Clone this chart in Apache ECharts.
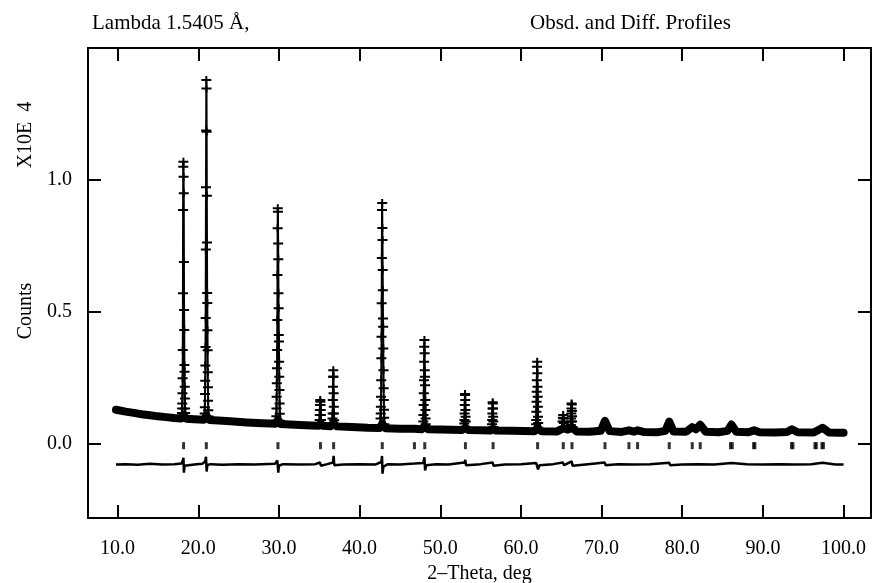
<!DOCTYPE html>
<html>
<head>
<meta charset="utf-8">
<script src="https://cdn.jsdelivr.net/npm/echarts@6/dist/echarts.min.js"></script>
<style>
  html, body { margin: 0; padding: 0; background: #fff; }
  #chart { width: 875px; height: 583px; }
</style>
</head>
<body>
<div id="chart"></div>
<script>
/* ------------------------------------------------------------------ */
/*  Powder profile: observed points, difference curve, reflections     */
/* ------------------------------------------------------------------ */

// background band (dense observed points merge into a thick band)
const bgTheta = [9.8, 11, 12, 13, 14, 15, 16, 17, 17.9, 18.18, 18.5, 19.5, 20.7, 21.0, 21.4, 22.5, 24, 26, 28, 29.6,
  29.88, 30.2, 32, 34, 34.9, 35.15, 35.5, 36.4, 36.78, 37.2, 39, 41, 42.5, 42.81, 43.2, 45, 46.8, 47.7, 48.08, 48.5,
  50, 52.7, 53.12, 53.5, 55, 56.2, 56.55, 56.9, 59, 61.7, 62.07, 62.5, 64.5, 65.25, 65.8, 66.33, 66.9, 68.5, 69.9, 70.42,
  71.0, 72.5, 73.39, 74.0, 74.46, 75.2, 77.0, 77.9, 78.39, 78.9, 80.5, 81.24, 81.7, 82.23, 82.9, 84.5, 85.6, 86.1, 86.7, 88.2,
  88.9, 89.6, 91.5, 93.0, 93.6, 94.3, 96.3, 97.4, 98.2, 99.5, 100.0];
const bgCounts = [0.13, 0.123, 0.118, 0.113, 0.109, 0.105, 0.102, 0.099, 0.097, 0.112, 0.096, 0.094, 0.092, 0.108, 0.091, 0.089, 0.086, 0.082, 0.079, 0.077,
  0.093, 0.076, 0.073, 0.070, 0.069, 0.078, 0.069, 0.067, 0.078, 0.067, 0.065, 0.062, 0.061, 0.077, 0.060, 0.058, 0.058, 0.056, 0.068, 0.056,
  0.055, 0.053, 0.062, 0.053, 0.052, 0.051, 0.058, 0.051, 0.050, 0.049, 0.062, 0.049, 0.048, 0.06, 0.055, 0.062, 0.048, 0.047, 0.05, 0.088,
  0.049, 0.046, 0.052, 0.047, 0.052, 0.046, 0.045, 0.05, 0.085, 0.048, 0.047, 0.064, 0.056, 0.073, 0.047, 0.045, 0.05, 0.074, 0.047, 0.045,
  0.052, 0.045, 0.044, 0.046, 0.056, 0.045, 0.044, 0.062, 0.044, 0.043, 0.043];

// observed points on the resolved peaks
const obsTheta = [
  17.96, 17.98, 18.00, 18.02, 18.04, 18.06, 18.08, 18.10, 18.12, 18.14, 18.16, 18.18, 18.20, 18.22, 18.24, 18.26, 18.28, 18.30, 18.32, 18.34, 18.36, 18.38, 18.40,
  20.78, 20.80, 20.82, 20.84, 20.86, 20.88, 20.90, 20.92, 20.94, 20.96, 20.98, 21.00, 21.02, 21.04, 21.06, 21.08, 21.10, 21.12, 21.14, 21.16, 21.18, 21.20, 21.22, 21.24, 21.26,
  29.66, 29.68, 29.70, 29.72, 29.74, 29.76, 29.78, 29.80, 29.82, 29.84, 29.86, 29.88, 29.90, 29.92, 29.94, 29.96, 29.98, 30.00, 30.02, 30.04, 30.06, 30.08, 30.10, 30.12,
  35.02, 35.04, 35.06, 35.08, 35.10, 35.12, 35.14, 35.16, 35.18, 35.20, 35.22, 35.24,
  36.62, 36.64, 36.66, 36.68, 36.70, 36.72, 36.74, 36.76, 36.78, 36.80, 36.82, 36.84, 36.86,
  42.58, 42.60, 42.62, 42.64, 42.66, 42.68, 42.70, 42.72, 42.74, 42.76, 42.78, 42.80, 42.82, 42.84, 42.86, 42.88, 42.90, 42.92, 42.94, 42.96, 42.98, 43.00, 43.02, 43.04, 43.06,
  47.88, 47.90, 47.92, 47.94, 47.96, 47.98, 48.00, 48.02, 48.04, 48.06, 48.08, 48.10, 48.12, 48.14, 48.16, 48.18, 48.20, 48.22,
  52.96, 52.98, 53.00, 53.02, 53.04, 53.06, 53.08, 53.10, 53.12, 53.14, 53.16, 53.18,
  56.40, 56.42, 56.44, 56.46, 56.48, 56.50, 56.52, 56.54, 56.56, 56.58, 56.60,
  61.86, 61.88, 61.90, 61.92, 61.94, 61.96, 61.98, 62.00, 62.02, 62.04, 62.06, 62.08, 62.10, 62.12, 62.14, 62.16,
  65.12, 65.16, 65.20, 65.24, 65.28, 65.32, 65.36,
  66.16, 66.18, 66.20, 66.22, 66.24, 66.26, 66.28, 66.30, 66.32, 66.34, 66.36, 66.38];
const obsCounts = [
  0.105, 0.118, 0.135, 0.154, 0.192, 0.249, 0.356, 0.571, 0.886, 1.05, 1.069, 1.012, 0.95, 0.69, 0.508, 0.432, 0.299, 0.274, 0.217, 0.173, 0.135, 0.118, 0.103,
  0.102, 0.116, 0.139, 0.19, 0.24, 0.298, 0.368, 0.477, 0.737, 0.973, 1.188, 1.379, 1.347, 1.183, 0.94, 0.763, 0.572, 0.534, 0.431, 0.355, 0.272, 0.215, 0.164, 0.128, 0.104,
  0.088, 0.105, 0.135, 0.179, 0.23, 0.287, 0.356, 0.47, 0.64, 0.817, 0.893, 0.88, 0.76, 0.70, 0.571, 0.514, 0.413, 0.388, 0.312, 0.255, 0.205, 0.154, 0.115, 0.088,
  0.078, 0.091, 0.11, 0.129, 0.148, 0.167, 0.16, 0.148, 0.129, 0.11, 0.091, 0.078,
  0.078, 0.097, 0.116, 0.167, 0.217, 0.255, 0.28, 0.255, 0.192, 0.141, 0.116, 0.09, 0.076,
  0.072, 0.097, 0.116, 0.141, 0.179, 0.242, 0.325, 0.406, 0.533, 0.705, 0.886, 0.913, 0.818, 0.773, 0.659, 0.583, 0.476, 0.444, 0.362, 0.28, 0.211, 0.167, 0.13, 0.1, 0.075,
  0.064, 0.085, 0.11, 0.148, 0.192, 0.242, 0.312, 0.369, 0.394, 0.344, 0.28, 0.255, 0.223, 0.167, 0.129, 0.097, 0.075, 0.062,
  0.062, 0.078, 0.091, 0.116, 0.148, 0.186, 0.19, 0.167, 0.129, 0.103, 0.085, 0.065,
  0.06, 0.075, 0.091, 0.116, 0.135, 0.158, 0.154, 0.135, 0.103, 0.085, 0.065,
  0.058, 0.075, 0.091, 0.122, 0.16, 0.198, 0.242, 0.293, 0.312, 0.268, 0.217, 0.179, 0.141, 0.103, 0.08, 0.06,
  0.062, 0.085, 0.1, 0.11, 0.097, 0.08, 0.062,
  0.06, 0.072, 0.085, 0.097, 0.116, 0.135, 0.154, 0.15, 0.125, 0.105, 0.085, 0.065];

// difference curve (obs - calc), drawn offset below zero
const diffTheta = [9.8, 11, 12.5, 14, 15.5, 17, 17.9, 18.1, 18.16, 18.22, 18.3, 18.5, 19.5, 20.5, 20.85, 20.96, 21.04, 21.12, 21.5, 23,
  25, 27, 29.5, 29.8, 29.86, 29.92, 30.0, 30.5, 32.5, 34.5, 35.1, 35.2, 36, 36.7, 36.78, 36.86, 38, 40, 42, 42.7,
  42.78, 42.84, 42.95, 43.5, 45, 46.8, 47.9, 48.04, 48.12, 48.25, 49.5, 51, 53.0, 53.1, 53.2, 55, 56.5, 56.6, 58, 60,
  61.9, 62.04, 62.12, 62.3, 64, 65.2, 65.35, 66.3, 66.4, 68, 70.4, 70.5, 72, 74, 76, 78.4, 78.5, 80, 82, 84,
  86.1, 86.2, 88, 90, 92, 94, 96, 97.4, 97.5, 99, 100];
const diffCounts = [-0.077, -0.076, -0.078, -0.075, -0.077, -0.076, -0.074, -0.062, -0.052, -0.108, -0.082, -0.075, -0.077, -0.075, -0.066, -0.048, -0.104, -0.08, -0.076, -0.078,
  -0.076, -0.077, -0.075, -0.062, -0.056, -0.108, -0.082, -0.076, -0.077, -0.076, -0.07, -0.082, -0.076, -0.07, -0.045, -0.08, -0.077, -0.076, -0.077, -0.068,
  -0.045, -0.112, -0.086, -0.076, -0.077, -0.074, -0.072, -0.05, -0.1, -0.08, -0.076, -0.077, -0.07, -0.06, -0.08, -0.076, -0.07, -0.082, -0.077, -0.076,
  -0.072, -0.066, -0.096, -0.08, -0.076, -0.07, -0.08, -0.066, -0.082, -0.077, -0.07, -0.08, -0.076, -0.077, -0.076, -0.071, -0.08, -0.077, -0.076, -0.077,
  -0.072, -0.078, -0.076, -0.077, -0.076, -0.077, -0.076, -0.071, -0.078, -0.077, -0.077];

// reflection positions
const reflTheta = [18.18, 21.0, 29.88, 35.15, 36.78, 42.81, 46.8, 48.08, 53.12, 56.55, 62.07, 65.25, 66.33, 70.42, 73.39, 74.46,
  78.39, 81.24, 82.23, 85.98, 86.2, 88.85, 89.0, 93.55, 93.72, 96.45, 96.62, 97.32, 97.5];
const reflLevel = -0.006;

const xTicks = [10, 20, 30, 40, 50, 60, 70, 80, 90, 100];
const yTicks = [0, 0.5, 1.0];

const FONT = '"Liberation Serif", "Times New Roman", serif';

const pairs = (xs, ys) => xs.map((x, i) => [x, ys[i]]);

// break the observed line between separate peaks
const obsData = [];
obsTheta.forEach((t, i) => {
  if (i > 0 && t - obsTheta[i - 1] > 0.1) obsData.push([(t + obsTheta[i - 1]) / 2, null]);
  obsData.push([t, obsCounts[i]]);
});

const chart = echarts.init(document.getElementById('chart'));

const axisLine = { show: true, onZero: false, lineStyle: { color: '#000', width: 2 } };
const tickStyle = { show: true, inside: true, length: 13, lineStyle: { color: '#000', width: 2 } };
const labelStyle = { color: '#000', fontFamily: FONT, fontSize: 20 };

const xAxisBase = {
  type: 'value',
  min: 6.33,
  max: 103.4,
  axisLine,
  splitLine: { show: false }
};
const yAxisBase = {
  type: 'value',
  min: -0.28,
  max: 1.5,
  axisLine,
  splitLine: { show: false }
};

chart.setOption({
  animation: false,
  backgroundColor: '#fff',
  grid: { left: 88, right: 4, top: 48, bottom: 65, containLabel: false, outerBoundsMode: 'none' },
  xAxis: [
    {
      ...xAxisBase,
      position: 'bottom',
      axisTick: { ...tickStyle, customValues: xTicks },
      axisLabel: { ...labelStyle, margin: 21, customValues: xTicks, formatter: v => v.toFixed(1) },
      name: '2\u2013Theta, deg',
      nameLocation: 'middle',
      nameGap: 45,
      nameTextStyle: labelStyle
    },
    {
      ...xAxisBase,
      position: 'top',
      axisTick: { ...tickStyle, customValues: xTicks },
      axisLabel: { show: false }
    }
  ],
  yAxis: [
    {
      ...yAxisBase,
      position: 'left',
      axisTick: { ...tickStyle, customValues: yTicks },
      axisLabel: { ...labelStyle, margin: 16, customValues: yTicks, formatter: v => v.toFixed(1) }
    },
    {
      ...yAxisBase,
      position: 'right',
      axisTick: { ...tickStyle, customValues: yTicks },
      axisLabel: { show: false }
    }
  ],
  graphic: [
    {
      type: 'text', left: 92, top: 13,
      style: { text: 'Lambda 1.5405 \u00c5,', fill: '#000', font: '21px ' + FONT }
    },
    {
      type: 'text', left: 530, top: 13,
      style: { text: 'Obsd. and Diff. Profiles', fill: '#000', font: '21px ' + FONT }
    },
    {
      type: 'text', x: 26, y: 135, rotation: Math.PI / 2,
      style: { text: 'X10E  4', fill: '#000', font: '20px ' + FONT, align: 'center', verticalAlign: 'middle' }
    },
    {
      type: 'text', x: 26, y: 311, rotation: Math.PI / 2,
      style: { text: 'Counts', fill: '#000', font: '20px ' + FONT, align: 'center', verticalAlign: 'middle' }
    }
  ],
  series: [
    {
      name: 'background',
      type: 'line',
      data: pairs(bgTheta, bgCounts),
      showSymbol: false,
      lineStyle: { color: '#000', width: 8, cap: 'round', join: 'round' },
      silent: true
    },
    {
      name: 'Obsd.',
      type: 'line',
      data: obsData,
      connectNulls: false,
      symbol: 'path://M0,3.75L10,3.75L10,6.25L0,6.25Z M4,0L6,0L6,10L4,10Z',
      symbolSize: [10, 8],
      showAllSymbol: true,
      itemStyle: { color: '#000' },
      lineStyle: { color: '#000', width: 2 },
      silent: true
    },
    {
      name: 'Diff.',
      type: 'line',
      data: pairs(diffTheta, diffCounts),
      showSymbol: false,
      lineStyle: { color: '#000', width: 2.5 },
      silent: true
    },
    {
      name: 'Reflections',
      type: 'scatter',
      data: reflTheta.map(t => [t, reflLevel]),
      symbol: 'rect',
      symbolSize: [3, 7],
      itemStyle: { color: '#000' },
      silent: true
    }
  ]
});
</script>
</body>
</html>
